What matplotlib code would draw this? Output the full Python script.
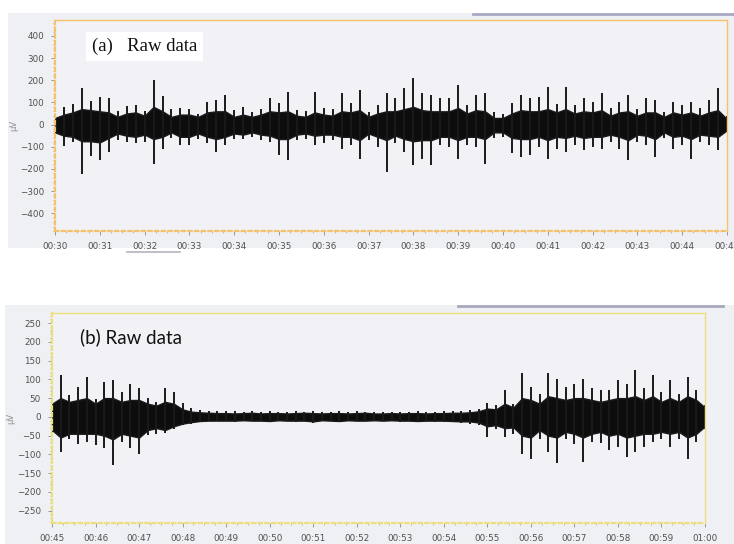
import numpy as np
import matplotlib
matplotlib.use('Agg')
import matplotlib.pyplot as plt
from matplotlib.ticker import MultipleLocator, FuncFormatter
from matplotlib.patches import Rectangle
from matplotlib.lines import Line2D

# ---- panel (a): 00:30 - 00:45, values in uV per 0.2 s window ----
a_t0 = 30.0
# peaks (spikes)
a_hi = [45, 80, 95, 165, 105, 125, 118, 60, 85, 90, 60, 200, 130, 70, 73, 70, 50, 103, 110,
        133, 65, 80, 58, 70, 118, 96, 148, 66, 60, 148, 73, 70, 141, 96, 156, 58, 90, 141,
        118, 163, 209, 141, 133, 118, 118, 179, 88, 133, 141, 55, 50, 96, 133, 118, 126, 171, 95,
        171, 88, 118, 103, 141, 73, 103, 133, 70, 118, 110, 58, 103, 88, 103, 73, 110, 163, 40]
a_lo = [-40, -95, -80, -225, -140, -160, -123, -70, -80, -85, -78, -176, -108, -60, -93, -90, -63, -85, -123,
        -93, -65, -63, -55, -70, -78, -138, -160, -70, -65, -93, -85, -70, -108, -93, -153, -70, -100, -213,
        -85, -123, -183, -153, -183, -93, -100, -153, -93, -100, -176, -60, -55, -130, -145, -138, -100, -153, -108,
        -123, -93, -115, -100, -108, -78, -108, -160, -80, -93, -145, -60, -108, -93, -153, -78, -93, -115, -35]
# dense band
a_core_hi = [30, 45, 55, 70, 65, 60, 55, 35, 50, 55, 40, 80, 60, 35, 45, 45, 35, 55, 60,
             60, 35, 45, 35, 45, 60, 55, 60, 40, 35, 55, 45, 40, 60, 55, 65, 35, 50, 60,
             60, 70, 80, 65, 60, 60, 60, 75, 50, 65, 60, 30, 30, 50, 65, 60, 60, 70, 55,
             70, 50, 60, 55, 65, 40, 55, 60, 40, 55, 55, 35, 55, 45, 55, 40, 55, 65, 25]
a_core_lo = [-35, -50, -55, -75, -75, -80, -60, -40, -50, -55, -45, -65, -55, -35, -55, -55, -40, -55, -65,
             -55, -40, -45, -35, -45, -50, -65, -65, -45, -40, -50, -45, -45, -55, -55, -70, -40, -55, -70,
             -50, -65, -75, -70, -70, -55, -55, -70, -55, -55, -65, -35, -35, -60, -65, -65, -55, -70, -55,
             -60, -50, -60, -55, -55, -45, -55, -70, -45, -50, -65, -35, -55, -50, -65, -45, -50, -55, -25]

# ---- panel (b): 00:45 - 01:00 ----
b_t0 = 45.0
b_hi = [44, 111, 58, 80, 107, 49, 93, 98, 67, 89, 76, 50, 40, 76, 67, 36, 25, 18, 16, 15,
        16, 15, 14, 15, 13, 16, 14, 13, 15, 14, 17, 13, 14, 16, 13, 15, 14, 13,
        13, 14, 13, 14, 15, 13, 14, 15, 16, 16, 18, 22, 36, 31, 71, 35, 116, 80, 62,
        116, 102, 80, 89, 102, 76, 71, 71, 98, 89, 125, 76, 111, 67, 98, 62, 107, 71, 31]
b_lo = [-44, -93, -60, -71, -67, -76, -84, -129, -67, -84, -98, -49, -45, -44, -31, -22, -18, -13, -12, -12,
        -12, -13, -12, -11, -12, -13, -12, -11, -13, -12, -16, -11, -12, -13, -11, -12, -12, -11,
        -12, -12, -13, -12, -13, -12, -13, -13, -14, -15, -18, -22, -53, -31, -53, -45, -98, -111, -60,
        -93, -124, -60, -71, -120, -67, -70, -89, -80, -107, -93, -80, -67, -58, -80, -60, -111, -67, -31]
b_core_hi = [35, 50, 40, 45, 50, 35, 50, 50, 40, 45, 45, 35, 30, 40, 35, 20, 14, 12, 11, 10,
             10, 9, 10, 11, 9, 10, 10, 9, 10, 11, 10, 9, 10, 10, 9, 10, 11, 9,
             9, 10, 9, 10, 10, 9, 10, 10, 11, 11, 12, 15, 22, 20, 35, 25, 50, 45, 35,
             55, 50, 45, 50, 50, 45, 40, 45, 50, 50, 55, 45, 55, 40, 50, 40, 55, 45, 25]
b_core_lo = [-35, -55, -45, -45, -45, -45, -50, -60, -45, -50, -55, -35, -30, -35, -25, -18, -14, -11, -10, -10,
             -10, -10, -9, -10, -10, -11, -9, -10, -10, -10, -12, -9, -10, -11, -9, -10, -10, -9,
             -10, -9, -10, -10, -11, -10, -10, -10, -11, -12, -12, -15, -25, -22, -30, -28, -50, -55, -35,
             -50, -55, -40, -45, -55, -45, -40, -50, -45, -55, -50, -45, -45, -40, -45, -40, -55, -45, -25]


def mmss(v, pos=None):
    s = int(round(v))
    return "%02d:%02d" % (s // 60, s % 60)


fig = plt.figure(figsize=(7.34, 5.44), dpi=100)
fig.patch.set_facecolor('white')

# chart control backgrounds
fig.add_artist(Rectangle((8/734, 1-248/544), 726/734, 235/544, transform=fig.transFigure,
                         facecolor='#eff0f4', edgecolor='none', zorder=0))
fig.add_artist(Rectangle((5/734, 0), 729/734, 1-305/544, transform=fig.transFigure,
                         facecolor='#eff0f4', edgecolor='none', zorder=0))
# scroll bars
fig.add_artist(Line2D([473/734, 1.0], [1-14/544]*2, color='#a9a9c6', lw=2))
fig.add_artist(Line2D([127/734, 180/734], [1-252/544]*2, color='#b4b4c4', lw=1.2))
fig.add_artist(Line2D([458/734, 723/734], [1-306/544]*2, color='#a9a9be', lw=2))


def panel(rect, t0, hi, lo, core_hi, core_lo, ylim, ystep, yminor, edge, label, lkw):
    ax = fig.add_axes(rect)
    ax.set_facecolor('#f1f1f6')
    t = t0 + 0.2 * np.arange(len(hi))
    ax.fill_between(t, core_lo, core_hi, color='#0d0d0d', lw=1.0, edgecolor='#1a1a1a')
    ax.vlines(t, lo, hi, color='#1a1a1a', lw=1.4)
    ax.set_xlim(t0, t0 + 15)
    ax.set_ylim(*ylim)
    ax.xaxis.set_major_locator(MultipleLocator(1))
    ax.xaxis.set_minor_locator(MultipleLocator(0.25))
    ax.xaxis.set_major_formatter(FuncFormatter(mmss))
    ax.yaxis.set_major_locator(MultipleLocator(ystep))
    ax.yaxis.set_minor_locator(MultipleLocator(yminor))
    for s in ax.spines.values():
        s.set_color(edge)
        s.set_linewidth(1.0)
    for s in ('left', 'bottom'):
        ax.spines[s].set_linestyle((0, (1.5, 1.5)))
        ax.spines[s].set_linewidth(1.6)
    ax.tick_params(which='major', length=3, width=0.6, color='#888888',
                   labelsize=6.3, labelcolor='#505050', pad=5)
    ax.tick_params(which='minor', length=1.5, width=0.5, color='#c0a060')
    ax.set_ylabel('\u00b5V', fontsize=6, color='#909090', labelpad=1)
    ax.text(*label, transform=ax.transAxes, va='center', ha='left', **lkw)
    return ax


panel([55/734, 1-231/544, 672/734, 211/544], a_t0, a_hi, a_lo, a_core_hi, a_core_lo,
      (-480, 472), 100, 20, '#f3c26a',
      (0.055, 0.875, '(a)   Raw data'),
      dict(fontsize=13.5, family='Liberation Serif', color='#111111',
           bbox=dict(facecolor='white', edgecolor='none', pad=4)))

panel([52/734, 1-523/544, 653/734, 210/544], b_t0, b_hi, b_lo, b_core_hi, b_core_lo,
      (-283, 277), 50, 10, '#ecdf7c',
      (0.043, 0.885, '(b) Raw data'),
      dict(fontsize=13.5, family='Lato', color='#111111'))

fig.savefig('out.png', dpi=100)
